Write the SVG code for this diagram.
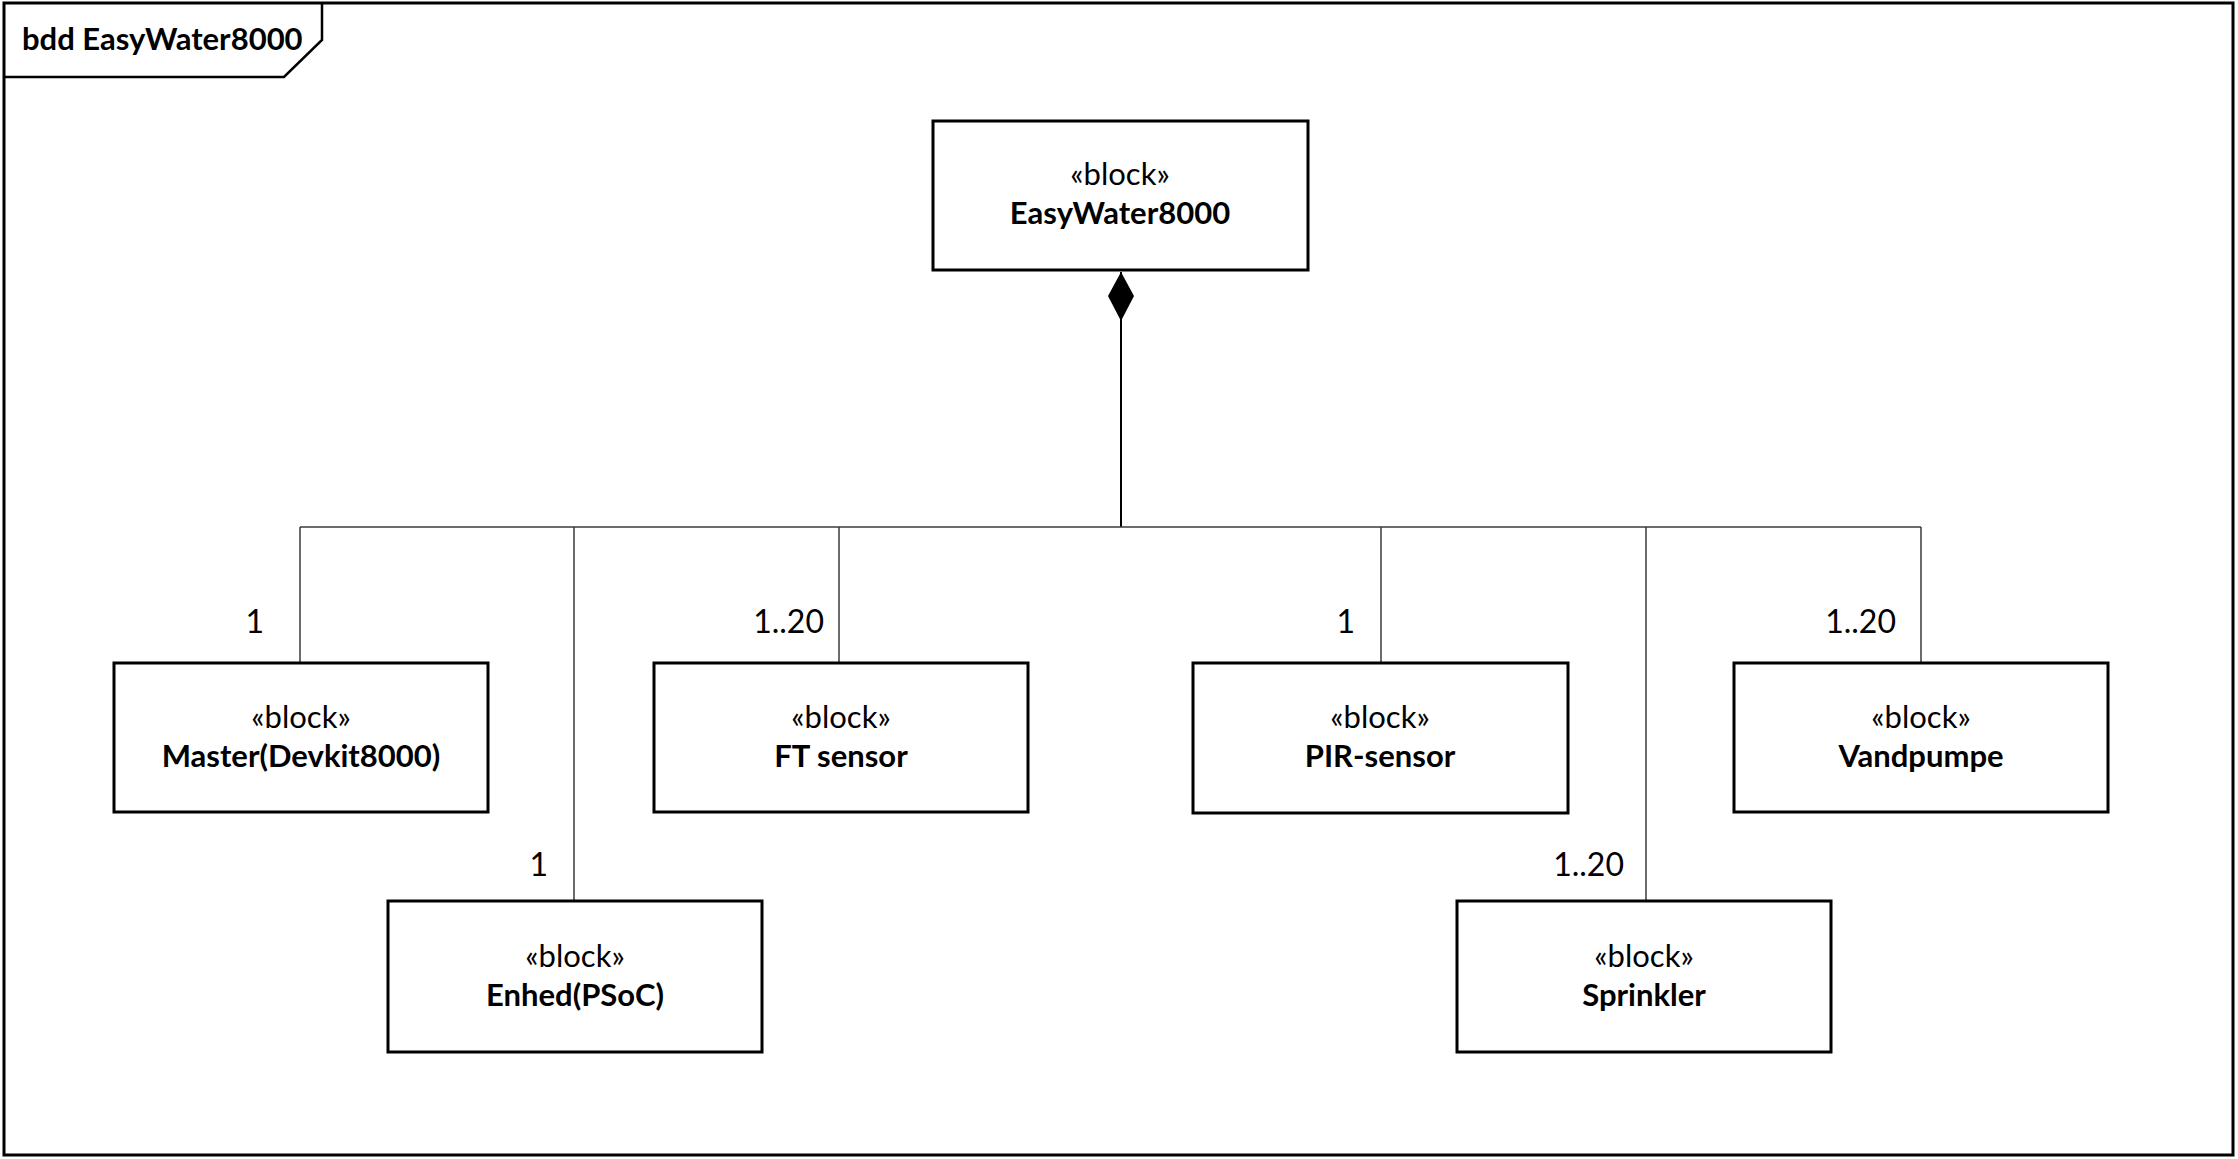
<svg xmlns="http://www.w3.org/2000/svg" width="2238" height="1159" viewBox="0 0 2238 1159">
  <style>
    .frame { fill: #ffffff; stroke: #000000; stroke-width: 3; }
    .tab { fill: none; stroke: #000000; stroke-width: 2.5; }
    .block { fill: #ffffff; stroke: #000000; stroke-width: 3; }
    .line { fill: none; stroke: #3a3a3a; stroke-width: 1.5; }
    .owner { fill: none; stroke: #000000; stroke-width: 2; }
    .stereo { font-family: Lato, "Liberation Sans", sans-serif; font-size: 31px; fill: #000; text-anchor: middle; }
    .name { font-family: Lato, "Liberation Sans", sans-serif; font-size: 31px; font-weight: bold; fill: #000; text-anchor: middle; }
    .mult { font-family: Lato, "Liberation Sans", sans-serif; font-size: 32px; fill: #000; text-anchor: end; }
    .title { font-family: Lato, "Liberation Sans", sans-serif; font-size: 31px; font-weight: bold; fill: #000; }
  </style>
  <defs>
    <!-- filled diamond for composition, placed at the whole end -->
    <marker id="composite" viewBox="0 0 50 26" refX="0" refY="13" markerWidth="50" markerHeight="26" markerUnits="userSpaceOnUse" orient="auto">
      <path d="M0,13 L24,0 L49,13 L24,26 Z" fill="#000000"/>
    </marker>
  </defs>

  <!-- diagram frame with name tab -->
  <g id="frame">
    <rect class="frame" x="4" y="3" width="2229" height="1152"/>
    <path class="tab" d="M4,77 L284,77 L322,40 L322,3"/>
    <text class="title" x="22" y="50">bdd EasyWater8000</text>
  </g>

  <!-- composition connectors -->
  <g id="connectors">
    <path class="owner" d="M1121,272 L1121,527" marker-start="url(#composite)"/>
    <path class="line" d="M300,527 L1921,527"/>
    <path class="line" d="M300,527 L300,663"/>
    <path class="line" d="M574,527 L574,901"/>
    <path class="line" d="M839,527 L839,663"/>
    <path class="line" d="M1381,527 L1381,663"/>
    <path class="line" d="M1646,527 L1646,901"/>
    <path class="line" d="M1921,527 L1921,663"/>
    <text class="mult" x="264" y="633">1</text>
    <text class="mult" x="824" y="633">1..20</text>
    <text class="mult" x="1355" y="633">1</text>
    <text class="mult" x="1896" y="633">1..20</text>
    <text class="mult" x="548" y="876">1</text>
    <text class="mult" x="1624" y="876">1..20</text>
  </g>

  <g id="easywater8000">
    <rect class="block" x="933" y="121" width="375" height="149"/>
    <text class="stereo" x="1120" y="185">«block»</text>
    <text class="name" x="1120" y="224">EasyWater8000</text>
  </g>

  <g id="master">
    <rect class="block" x="114" y="663" width="374" height="149"/>
    <text class="stereo" x="301" y="728">«block»</text>
    <text class="name" x="301" y="767">Master(Devkit8000)</text>
  </g>

  <g id="ft-sensor">
    <rect class="block" x="654" y="663" width="374" height="149"/>
    <text class="stereo" x="841" y="728">«block»</text>
    <text class="name" x="841" y="767">FT sensor</text>
  </g>

  <g id="pir-sensor">
    <rect class="block" x="1193" y="663" width="375" height="150"/>
    <text class="stereo" x="1380" y="728">«block»</text>
    <text class="name" x="1380" y="767">PIR-sensor</text>
  </g>

  <g id="vandpumpe">
    <rect class="block" x="1734" y="663" width="374" height="149"/>
    <text class="stereo" x="1921" y="728">«block»</text>
    <text class="name" x="1921" y="767">Vandpumpe</text>
  </g>

  <g id="enhed">
    <rect class="block" x="388" y="901" width="374" height="151"/>
    <text class="stereo" x="575" y="967">«block»</text>
    <text class="name" x="575" y="1006">Enhed(PSoC)</text>
  </g>

  <g id="sprinkler">
    <rect class="block" x="1457" y="901" width="374" height="151"/>
    <text class="stereo" x="1644" y="967">«block»</text>
    <text class="name" x="1644" y="1006">Sprinkler</text>
  </g>
</svg>
